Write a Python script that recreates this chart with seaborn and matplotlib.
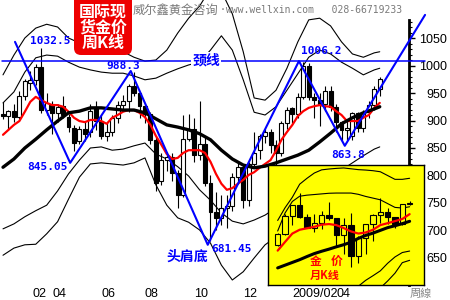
import numpy as np
import matplotlib
matplotlib.use('Agg')
import matplotlib.pyplot as plt
import seaborn as sns
from matplotlib.patches import FancyBboxPatch
from matplotlib.transforms import IdentityTransform

# ---------------- weekly gold candles (week 0 = week ending 2008-02-01) -------------
weeks = list(range(70))
opens = [912,908,918,906,945,968,973,998,920,930,
         913,926,906,886,862,884,880,924,900,872,
         880,904,928,935,962,950,926,912,864,790,
         828,833,805,765,866,884,838,858,786,733,
         722,740,745,798,815,755,820,846,872,880,
         855,840,895,922,912,942,1000,942,938,930,
         953,925,898,882,872,913,887,915,928,957]
highs = [934,920,930,953,976,990,1003,1032.5,950,935,
         930,945,912,892,890,898,930,935,910,898,
         910,935,947,966,988.3,952,930,915,870,840,
         842,840,810,910,912,905,935,870,800,770,
         765,765,805,825,820,825,880,875,885,885,
         865,900,925,925,950,1006.2,1005,950,950,962,
         962,930,900,900,915,915,920,935,962,980]
lows = [903,882,898,903,938,955,965,913,910,875,
        898,905,880,845.05,858,862,870,882,866,862,
        872,896,920,916,945,905,895,858,772,782,
        808,790,740,760,862,825,828,780,681.45,700,
        710,705,735,785,740,745,818,830,860,840,
        805,835,885,895,905,940,937,905,890,918,
        918,880,864,865,865,880,880,905,920,945]
closes = [908,918,906,945,972,973,998,920,932,913,
          925,910,888,859,884,876,918,900,872,880,
          904,928,935,962,950,926,912,864,786,828,
          833,805,765,866,884,838,858,786,733,722,
          740,745,798,815,755,820,840,872,880,855,
          840,895,920,912,942,1000,942,938,930,953,
          925,898,882,886,913,887,915,928,957,976]

# moving average (red), one value per week
ma_red = [874,883,892,899,916,934,943,937,932,928,
          928,925,916,905,899,897,901,901,899,894,
          905,910,916,919,919,914,906,892,872,856,
          839,830,832,841,846,846,846,841,825,803,
          785,774,777,785,792,801,806,814,821,828,
          845,865,879,892,908,917,923,926,928,926,
          925,917,910,899,899,899,905,910,923,932]

# band lines and long MA sampled every two weeks
band_w = [0,2,4,6,8,10,12,14,16,18,20,22,24,26,28,30,32,34,36,38,
          40,42,44,46,48,50,52,54,56,58,60,62,64,66,68,69]
upper_outer = [983,1019,1050,1068,1075,1070,1050,1041,1039,1037,1032,1025,1015,1008,1010,1028,1059,1086,1108,1140,
               1135,1094,1025,941,937,955,995,1043,1083,1086,1072,1043,1021,1015,1023,1025]
upper_inner = [932,952,988,1014,1019,1017,1006,997,992,988,986,986,981,974,977,986,994,1001,1006,1028,
               1054,1028,974,915,910,925,955,985,1015,1028,1021,1006,995,983,992,995]
lower_inner = [703,712,725,736,746,772,803,828,850,852,846,848,854,859,839,830,816,799,774,755,
               732,717,712,719,728,741,755,766,777,788,799,810,823,836,848,852]
lower_outer = [655,668,674,675,694,716,757,797,821,823,821,819,823,832,783,746,723,715,701,677,
               637,610,625,650,674,688,701,712,723,734,745,755,765,774,781,785]
ma_black = [815,830,850,866,883,899,914,917,923,923,921,919,919,914,903,892,888,883,876,865,
            846,830,819,814,817,823,830,837,846,861,877,894,905,914,921,925]

# hand-drawn pattern lines
pattern_w = [2.2, 12.3, 23.4, 37.5, 54.2, 62.6, 77.3]
pattern_p = [1043, 823, 990, 674, 1008, 854, 1092]
neck_w = [-0.2, 77.3]
neck_p = 1009

month_ticks = [9, 18, 26, 35, 44, 53, 61]
month_labels = ['04', '06', '08', '10', '12', '2009/02', '04']
y_ticks = [650, 700, 750, 800, 850, 900, 950, 1000, 1050]
y_minor = list(range(610, 1081, 10))

# ---------------- monthly inset (index 0 = Dec 2007) ----------------
months = list(range(19))
m_open = [783,834,923,972,916,865,887,927,912,833,880,730,815,882,928,942,917,884,979]
m_high = [842,929,975,1032,933,930,945,988,914,912,935,825,882,932,1006,960,918,980,990]
m_low = [781,832,880,914,862,845,860,904,772,740,681,700,740,802,890,882,864,880,975]
m_close = [834,923,972,916,865,887,927,912,833,880,730,815,882,928,942,917,884,979,983]
m_red = [757,798,838,856,863,870,880,883,878,864,848,838,843,856,878,887,897,907,930]
m_black = [675,688,701,714,729,743,754,764,775,785,797,815,829,840,853,866,875,885,896]
m_up_outer = [900,960,1010,1072,1100,1125,1140,1144,1147,1149,1145,1141,1139,1136,1131,1113,1095,1095,1100]
m_up_inner = [850,935,990,1015,1020,1023,1026,1029,1030,1030,1030,1024,1014,1006,998,980,962,959,965]
m_lowA_x = [10,11,12,13,14,15,16,17,18]
m_lowA = [560,588,616,638,661,697,727,748,755]
m_lowB_x = [13,14,15,16,17,18]
m_lowB = [550,580,613,650,700,711]

# ---------------- style ----------------
sns.set_theme(style='white')
plt.rcParams['font.family'] = ['Liberation Sans', 'Noto Sans CJK SC', 'DejaVu Sans']

BLUE = '#0000ff'
RED = '#ff0000'
CJK = ['Noto Sans CJK SC', 'DejaVu Sans']
MONO = ['DejaVu Sans Mono']


def draw_candles(a, xs, o, h, l, c, width, lw, z, upface):
    o = np.asarray(o, float)
    c = np.asarray(c, float)
    a.vlines(xs, l, h, color='black', linewidth=lw, zorder=z)
    up = c >= o
    bottoms = np.minimum(o, c)
    heights = np.maximum(np.abs(c - o), 1.5)
    faces = [upface if u else 'black' for u in up]
    a.bar(xs, heights, width=width, bottom=bottoms, color=faces,
          edgecolor='black', linewidth=lw, zorder=z + 0.1)


fig = plt.figure(figsize=(4.5, 3), dpi=100, facecolor='white')
ax = fig.add_axes([0, 15 / 300, 409 / 450, 285 / 300])
ax.set_facecolor('white')
ax.set_xlim(-0.55, 74.36)
ax.set_ylim(600.9, 1119.1)

# bands
for arr in (upper_outer, upper_inner, lower_inner, lower_outer):
    sns.lineplot(x=band_w, y=arr, ax=ax, color='black', linewidth=0.8, zorder=2, legend=False)

draw_candles(ax, weeks, opens, highs, lows, closes, 0.72, 0.8, 3, 'white')

sns.lineplot(x=weeks, y=ma_red, ax=ax, color=RED, linewidth=1.6, zorder=5, legend=False)
sns.lineplot(x=band_w, y=ma_black, ax=ax, color='black', linewidth=2.4, zorder=5, legend=False)

# pattern lines
sns.lineplot(x=pattern_w, y=pattern_p, ax=ax, color=BLUE, linewidth=1.5, sort=False,
             zorder=7, legend=False, clip_on=False)
ax.plot(neck_w, [neck_p, neck_p], color=BLUE, linewidth=1.1, zorder=7, clip_on=False)

# labels
num_kw = dict(color=BLUE, fontsize=8, fontweight='bold', family=MONO, ha='center', va='center', zorder=8)
ax.text(8.6, 1044, '1032.5', **num_kw)
ax.text(22.0, 999, '988.3', **num_kw)
ax.text(8.1, 815, '845.05', **num_kw)
ax.text(41.9, 666, '681.45', **num_kw)
ax.text(58.2, 1026, '1006.2', **num_kw)
ax.text(63.2, 837, '863.8', **num_kw)
ax.text(37.2, 1010, '颈线', color=BLUE, fontsize=10, fontweight='bold', family=CJK,
        ha='center', va='center', zorder=8,
        bbox=dict(facecolor='white', edgecolor='none', pad=0.6))
ax.text(33.7, 652, '头肩底', color=BLUE, fontsize=10, fontweight='bold', family=CJK,
        ha='center', va='center', zorder=8)

# axes styling
for s in ['left', 'top', 'bottom']:
    ax.spines[s].set_visible(False)
ax.spines['right'].set_visible(True)
ax.spines['right'].set_color('black')
ax.spines['right'].set_linewidth(2)
ax.spines['right'].set_bounds(600.9, 1083)
ax.yaxis.tick_right()
ax.set_yticks(y_ticks)
ax.set_yticklabels([str(v) for v in y_ticks])
ax.set_yticks(y_minor, minor=True)
ax.tick_params(axis='y', which='major', right=True, left=False, length=4.5, width=1,
               color='black', pad=23, labelsize=9, labelcolor='black', direction='out')
ax.tick_params(axis='y', which='minor', right=True, left=False, length=2.2, width=0.8,
               color='black', direction='out')
for t in ax.get_yticklabels():
    t.set_ha('right')
ax.set_xticks(month_ticks)
ax.set_xticklabels(month_labels)
ax.tick_params(axis='x', which='both', length=0, pad=2.2, labelsize=9, labelcolor='black', bottom=True)
for t in ax.get_xticklabels():
    t.set_ha('left')
ax.annotate('02', xy=(month_ticks[0], 600.9), xycoords='data', xytext=(-4.3, -2.2),
            textcoords='offset points', ha='right', va='top', fontsize=9, color='black',
            annotation_clip=False)
ax.grid(False)

# ---------------- inset ----------------
ax2 = fig.add_axes([268 / 450, 15 / 300, 156 / 450, 120 / 300])
ax2.set_facecolor('#ffff00')
ax2.set_xlim(-1.32, 19.96)
ax2.set_ylim(594, 1163)
for s in ax2.spines.values():
    s.set_visible(True)
    s.set_color('black')
    s.set_linewidth(1)
ax2.set_xticks([])
ax2.set_yticks([])
ax2.grid(False)
for arr in (m_up_outer, m_up_inner):
    sns.lineplot(x=months, y=arr, ax=ax2, color='black', linewidth=0.8, zorder=2, legend=False)
sns.lineplot(x=m_lowA_x, y=m_lowA, ax=ax2, color='black', linewidth=0.8, zorder=2, legend=False)
sns.lineplot(x=m_lowB_x, y=m_lowB, ax=ax2, color='black', linewidth=0.8, zorder=2, legend=False)
draw_candles(ax2, months, m_open, m_high, m_low, m_close, 0.75, 0.8, 3, '#ffff00')
sns.lineplot(x=months, y=m_red, ax=ax2, color=RED, linewidth=1.6, zorder=5, legend=False)
sns.lineplot(x=months, y=m_black, ax=ax2, color='black', linewidth=2.2, zorder=5, legend=False)
ax2.text(5.2, 704, '金', color=RED, fontsize=8.5, fontweight='bold', family=CJK, ha='center', va='center', zorder=8)
ax2.text(8.0, 708, '价', color=RED, fontsize=8.5, fontweight='bold', family=CJK, ha='center', va='center', zorder=8)
ax2.text(6.45, 641, '月K线', color=RED, fontsize=8, fontweight='bold', family=CJK, ha='center', va='center', zorder=8)

# ---------------- title box & watermark ----------------
box = FancyBboxPatch((74, 245), 58, 70, boxstyle='round,pad=0,rounding_size=7',
                     transform=IdentityTransform(), facecolor='#ee0000', edgecolor='none', zorder=10)
fig.add_artist(box)
for txt, ypx in (('国际现', 12), ('货金价', 28), ('周K线', 43)):
    fig.text(103 / 450, 1 - ypx / 300, txt, color='white', fontsize=11.5, fontweight='bold',
             family=CJK, ha='center', va='center', zorder=11)

GRAY = '#7a7a7a'
fig.text(133 / 450, 1 - 10 / 300, '威尔鑫黄金咨询', color=GRAY, fontsize=8.8, family=CJK,
         ha='left', va='center')
fig.text(219.5 / 450, 1 - 10 / 300, '·www.wellxin.com   028-66719233', color=GRAY, fontsize=7,
         family=MONO, ha='left', va='center')
fig.text(421 / 450, 1 - 294 / 300, '周線', color='#888888', fontsize=8,
         family=['Noto Sans CJK TC', 'DejaVu Sans'], ha='center', va='center')

fig.savefig('out.png', dpi=100, facecolor='white')
